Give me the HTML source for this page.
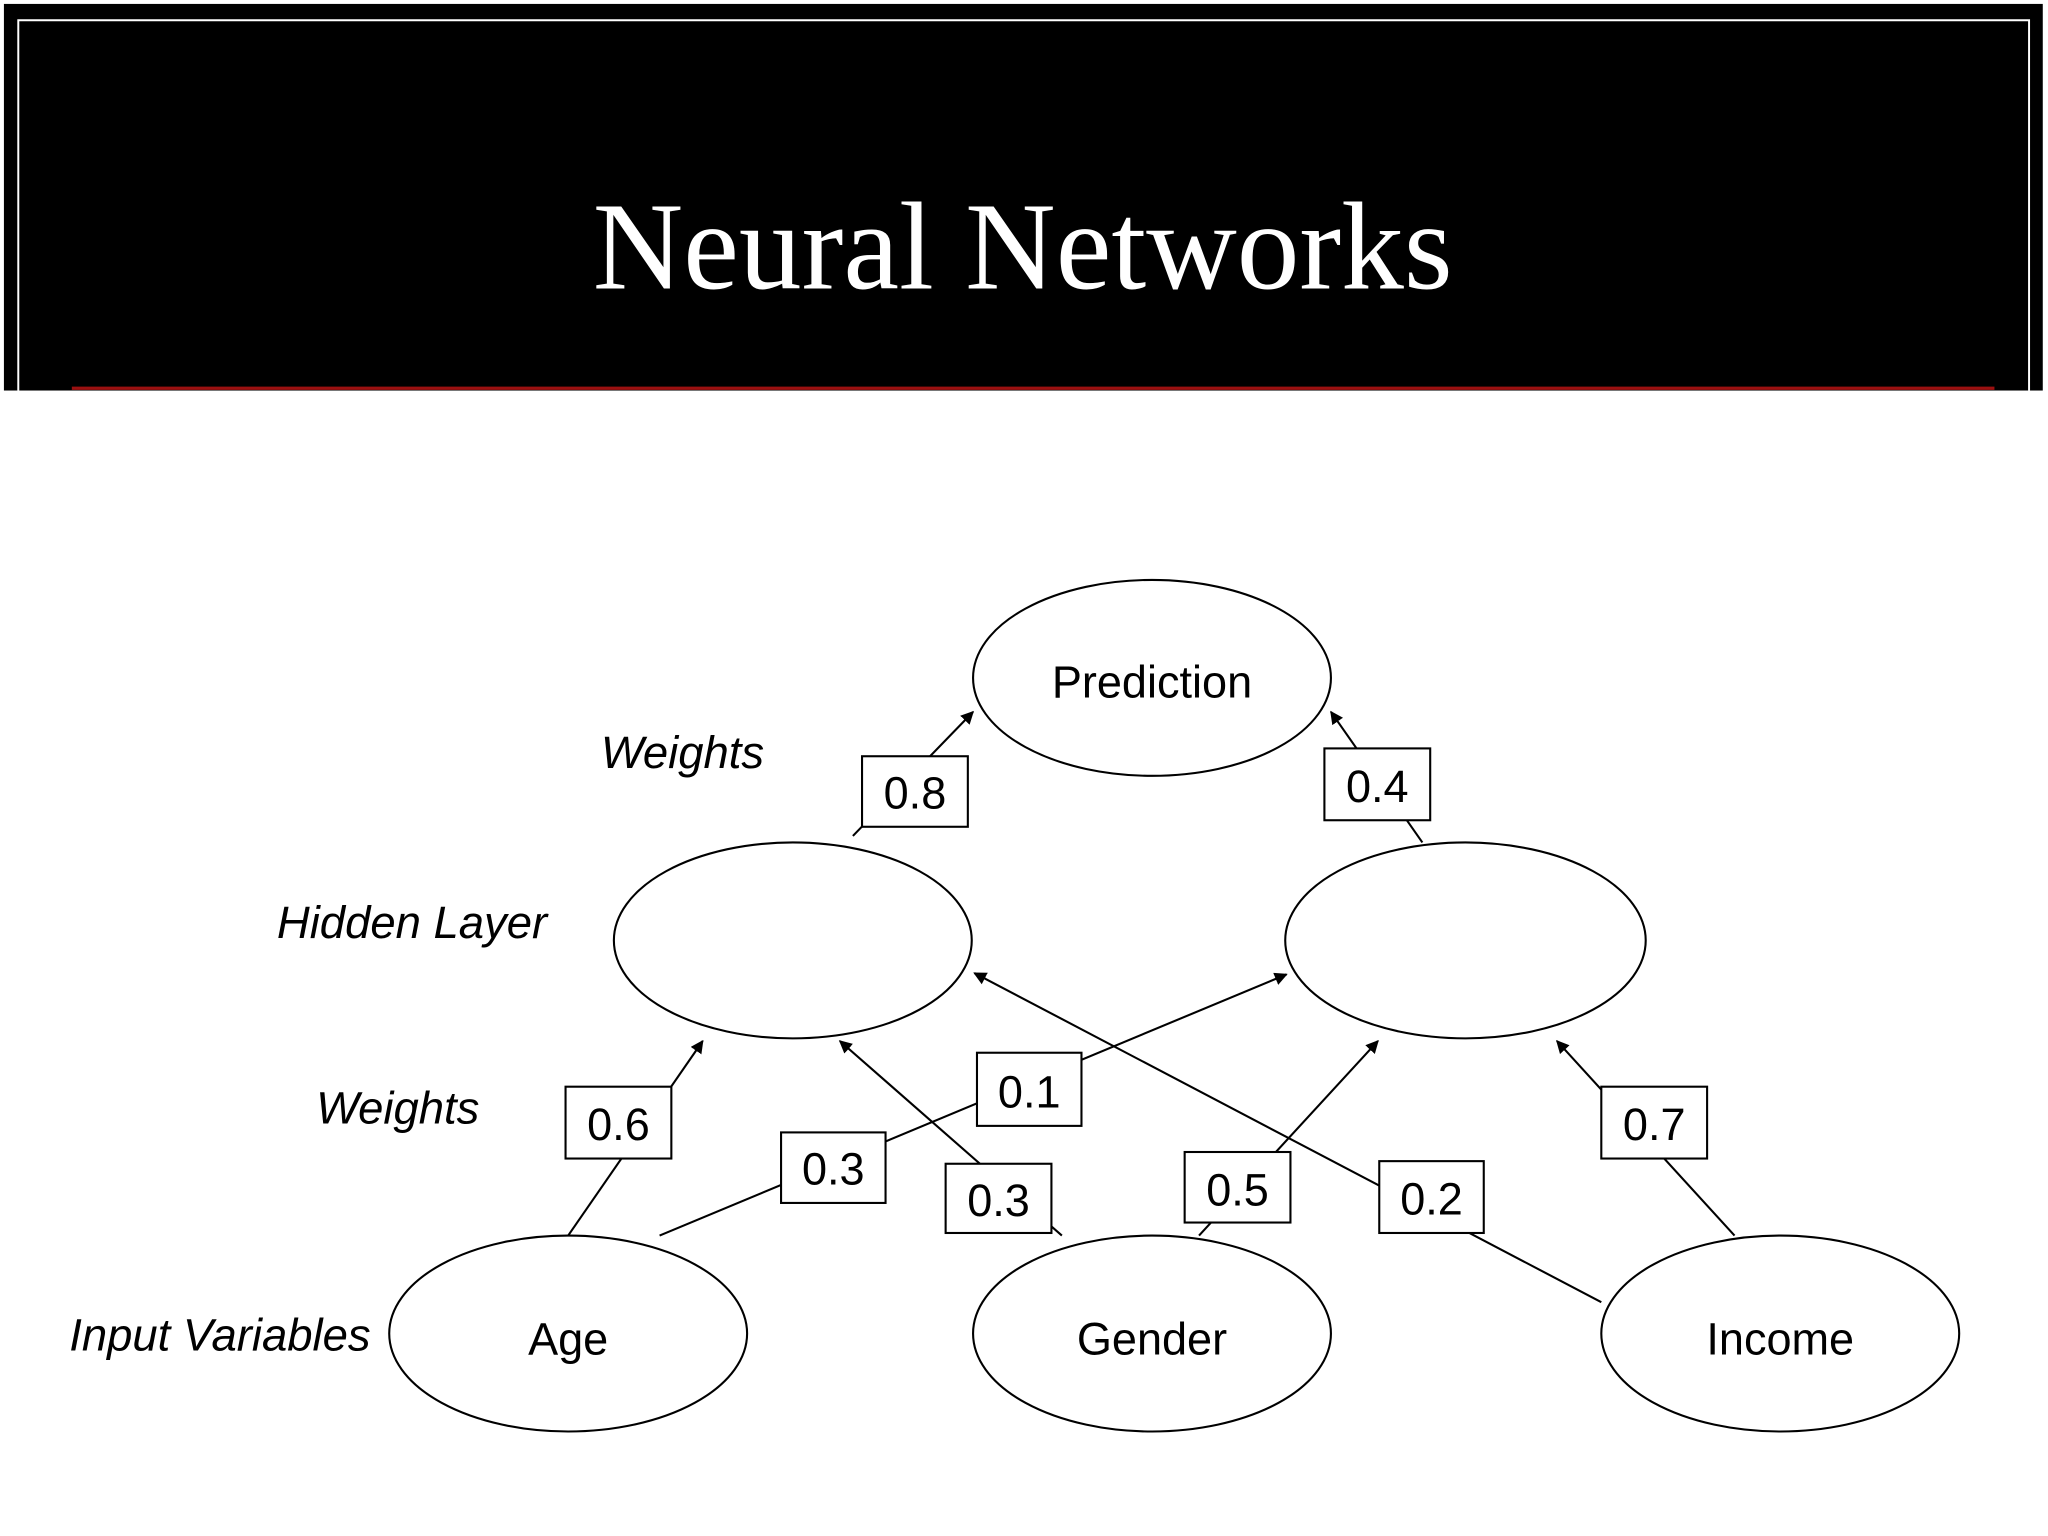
<!DOCTYPE html>
<html><head><meta charset="utf-8"><style>
html,body{margin:0;padding:0;background:#fff;}
svg{display:block;}
</style></head><body>
<svg width="2048" height="1536" viewBox="0 0 1568 1176" preserveAspectRatio="none" xmlns="http://www.w3.org/2000/svg">
<defs>
<marker id="ah" viewBox="0 0 10 10" refX="9" refY="5" markerWidth="10" markerHeight="10" markerUnits="userSpaceOnUse" orient="auto">
<path d="M0,0 L10,5 L0,10 z" fill="#000"/>
</marker>
</defs>
<rect x="0" y="0" width="1568" height="1176" fill="#fff"/>
<rect x="3" y="3" width="1561" height="296" fill="#000"/>
<path d="M14,299 L14,15.5 L1553.5,15.5 L1553.5,299" fill="none" stroke="#fff" stroke-width="1.5"/>
<rect x="55" y="296" width="1472" height="2.5" fill="#9b1010"/>
<text x="783" y="221" font-family="Liberation Serif, serif" font-size="96" fill="#fff" text-anchor="middle">Neural Networks</text>

<g fill="none" stroke="#000" stroke-width="1.6">
<ellipse cx="882" cy="519" rx="137" ry="75"/>
<ellipse cx="607" cy="720" rx="137" ry="75"/>
<ellipse cx="1122" cy="720" rx="138" ry="75"/>
<ellipse cx="435" cy="1021" rx="137" ry="75"/>
<ellipse cx="882" cy="1021" rx="137" ry="75"/>
<ellipse cx="1363" cy="1021" rx="137" ry="75"/>
</g>

<g stroke="#000" stroke-width="1.6" marker-end="url(#ah)">
<line x1="435" y1="946" x2="538" y2="797"/>
<line x1="505" y1="946" x2="985" y2="746"/>
<line x1="813" y1="946" x2="643" y2="797"/>
<line x1="918" y1="946" x2="1055" y2="797"/>
<line x1="1226" y1="997" x2="746" y2="745"/>
<line x1="1328" y1="946" x2="1192" y2="797"/>
<line x1="653" y1="640" x2="745" y2="545"/>
<line x1="1089" y1="645" x2="1019" y2="545"/>
</g>

<g fill="#fff" stroke="#000" stroke-width="1.6">
<rect x="660" y="579" width="81" height="54"/>
<rect x="1014" y="573" width="81" height="55"/>
<rect x="433" y="832" width="81" height="55"/>
<rect x="748" y="806" width="80" height="56"/>
<rect x="598" y="867" width="80" height="54"/>
<rect x="724" y="891" width="81" height="53"/>
<rect x="907" y="882" width="81" height="54"/>
<rect x="1056" y="889" width="80" height="55"/>
<rect x="1226" y="832" width="81" height="55"/>
</g>

<g font-family="Liberation Sans, sans-serif" font-size="34.5" fill="#000" text-anchor="middle">
<text x="700.5" y="619">0.8</text>
<text x="1054.5" y="614">0.4</text>
<text x="473.5" y="873">0.6</text>
<text x="788" y="848">0.1</text>
<text x="638" y="907">0.3</text>
<text x="764.5" y="931">0.3</text>
<text x="947.5" y="923">0.5</text>
<text x="1096" y="930">0.2</text>
<text x="1266.5" y="873">0.7</text>
<text x="882" y="534">Prediction</text>
<text x="435" y="1037">Age</text>
<text x="882" y="1037">Gender</text>
<text x="1363" y="1037">Income</text>
</g>
<g font-family="Liberation Sans, sans-serif" font-size="34.8" font-style="italic" fill="#000">
<text x="460" y="588">Weights</text>
<text x="212" y="718">Hidden Layer</text>
<text x="242" y="860">Weights</text>
<text x="53" y="1034">Input Variables</text>
</g>
</svg>
</body></html>
